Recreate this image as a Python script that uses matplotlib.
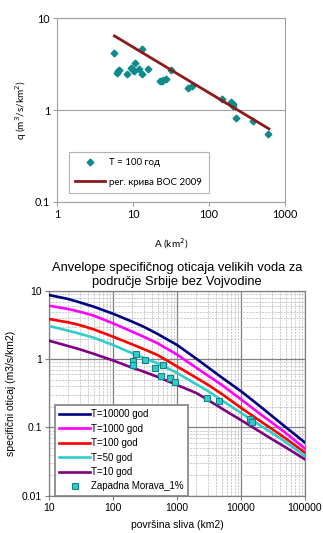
import matplotlib
matplotlib.use('Agg')
import matplotlib.pyplot as plt
from matplotlib.ticker import LogLocator, FixedLocator, NullFormatter, NullLocator

# top chart data: observed specific runoff, T = 100 god
A_obs = [5.7, 6.1, 6.3, 6.5, 8.3, 9.4, 9.9, 10.3, 10.6, 12.1, 13.0, 13.3, 15.6,
         22.7, 23.8, 24.9, 26.9, 31.6, 52.4, 59.1, 147, 195, 205, 210, 224, 376, 603]
q_obs = [4.17, 2.52, 2.68, 2.74, 2.46, 2.86, 2.74, 2.68, 3.24, 2.81, 2.46, 4.6, 2.81,
         2.08, 2.08, 2.14, 2.17, 2.72, 1.76, 1.84, 1.33, 1.22, 1.16, 1.12, 0.83, 0.77, 0.553]
A_reg = [5.7, 615]
q_reg = [6.43, 0.626]

# bottom chart data: envelopes
A_env = [10, 20, 30, 50, 100, 200, 300, 500, 1000, 2000, 3000, 5000,
         10000, 20000, 30000, 50000, 100000]
q_10000 = [8.73, 7.63, 6.83, 5.89, 4.65, 3.55, 3.0, 2.34, 1.62, 1.02, 0.77, 0.54,
           0.34, 0.203, 0.149, 0.101, 0.060]
q_1000 = [6.09, 5.44, 4.98, 4.35, 3.36, 2.53, 2.14, 1.71, 1.17, 0.75, 0.58, 0.42,
          0.258, 0.157, 0.119, 0.083, 0.049]
q_100 = [3.88, 3.47, 3.17, 2.74, 2.14, 1.65, 1.41, 1.15, 0.785, 0.535, 0.426, 0.31,
         0.194, 0.124, 0.096, 0.069, 0.0427]
q_50 = [3.07, 2.62, 2.37, 2.07, 1.62, 1.22, 1.05, 0.87, 0.63, 0.43, 0.345, 0.25,
        0.164, 0.107, 0.084, 0.061, 0.0382]
q_10 = [1.87, 1.56, 1.40, 1.20, 0.96, 0.75, 0.66, 0.55, 0.42, 0.32, 0.255, 0.19,
        0.128, 0.086, 0.068, 0.051, 0.0341]
env_labels = ['T=10000 god', 'T=1000 god', 'T=100 god', 'T=50 god', 'T=10 god']
env_colors = ['#000080', '#FF00FF', '#FF0000', '#33CCCC', '#800080']

A_zm = [206, 206, 232, 321, 455, 565, 608, 791, 925, 2965, 4510, 13800, 14650]
q_zm = [0.94, 0.82, 1.18, 0.975, 0.736, 0.574, 0.82, 0.537, 0.469, 0.267, 0.244, 0.133, 0.122]

fig = plt.figure(figsize=(3.23, 5.33), dpi=100, facecolor='white')

# ---------- top chart ----------
ax1 = fig.add_axes([57/323, 1-202/533, 228/323, 183.7/533])
top_font = 'Lato'
ax1.set_xscale('log')
ax1.set_yscale('log')
ax1.set_xlim(1, 1000)
ax1.set_ylim(0.1, 10)
ax1.plot(A_obs, q_obs, linestyle='none', marker='D', ms=3.4, color='#0E8A8A',
         label='T = 100 год', zorder=3)
ax1.plot(A_reg, q_reg, color='#8B1A1A', lw=2, label='рег. крива ВОС 2009', zorder=4)
ax1.xaxis.set_major_locator(FixedLocator([1, 10, 100, 1000]))
ax1.yaxis.set_major_locator(FixedLocator([0.1, 1, 10]))
ax1.xaxis.set_minor_locator(NullLocator())
ax1.yaxis.set_minor_locator(NullLocator())
ax1.set_xticklabels(['1', '10', '100', '1000'], fontsize=7.8, family=top_font)
ax1.set_yticklabels(['0.1', '1', '10'], fontsize=7.8, family=top_font)
ax1.tick_params(length=3, color='#a0a0a0', pad=2)
ax1.grid(axis='y', which='major', color='#a0a0a0', lw=0.8)
for s in ax1.spines.values():
    s.set_color('#a0a0a0')
    s.set_linewidth(0.8)
ax1.set_xlabel('A (km$^2$)', fontsize=7.2, family=top_font, labelpad=12)
ax1.set_ylabel('q (m$^3$/s/km$^2$)', fontsize=7.2, family=top_font, labelpad=4)
leg1 = ax1.legend(loc='lower left', bbox_to_anchor=(0.053, 0.049), borderaxespad=0,
                  prop={'family': top_font, 'size': 7}, fancybox=False,
                  edgecolor='#a0a0a0', handlelength=3.0, handletextpad=0.5,
                  borderpad=0.65, labelspacing=1.05)
leg1.get_frame().set_linewidth(0.8)

# ---------- bottom chart ----------
bot_font = 'Liberation Sans'
ax2 = fig.add_axes([49/323, 1-495.7/533, 256/323, 204.7/533])
ax2.set_xscale('log')
ax2.set_yscale('log')
ax2.set_xlim(10, 100000)
ax2.set_ylim(0.01, 10)
for q, lab, c in zip([q_10000, q_1000, q_100, q_50, q_10], env_labels, env_colors):
    ax2.plot(A_env, q, color=c, lw=1.9, label=lab, zorder=3)
ax2.plot(A_zm, q_zm, linestyle='none', marker='s', ms=4.5, mfc='#33CCCC',
         mec='#138585', mew=0.8, label='Zapadna Morava_1%', zorder=4)
ax2.xaxis.set_major_locator(FixedLocator([10, 100, 1000, 10000, 100000]))
ax2.yaxis.set_major_locator(FixedLocator([0.01, 0.1, 1, 10]))
ax2.xaxis.set_minor_locator(LogLocator(base=10, subs=range(2, 10), numticks=20))
ax2.yaxis.set_minor_locator(LogLocator(base=10, subs=range(2, 10), numticks=20))
ax2.xaxis.set_minor_formatter(NullFormatter())
ax2.yaxis.set_minor_formatter(NullFormatter())
ax2.set_xticklabels(['10', '100', '1000', '10000', '100000'], fontsize=7.5, family=bot_font)
ax2.set_yticklabels(['0.01', '0.1', '1', '10'], fontsize=7.5, family=bot_font)
ax2.tick_params(which='major', length=3, color='#808080', pad=2)
ax2.tick_params(which='minor', length=0)
ax2.grid(which='major', color='#808080', lw=0.9)
ax2.grid(which='minor', color='#b8b8b8', lw=0.5, linestyle=(0, (3, 1.5)))
for s in ax2.spines.values():
    s.set_color('#808080')
    s.set_linewidth(0.9)
ax2.set_title('Anvelope specifičnog oticaja velikih voda za\npodručje Srbije bez Vojvodine',
              fontsize=9.3, family=bot_font, pad=4, linespacing=1.3)
ax2.set_xlabel('površina sliva (km2)', fontsize=7.5, family=bot_font, labelpad=5)
ax2.set_ylabel('specifični oticaj (m3/s/km2)', fontsize=7.5, family=bot_font, labelpad=4)
leg2 = ax2.legend(loc='lower left', bbox_to_anchor=(0.023, 0.0), borderaxespad=0,
                  prop={'family': bot_font, 'size': 7}, fancybox=False,
                  edgecolor='#808080', framealpha=1, handlelength=3.2,
                  handletextpad=0.1, borderpad=0.45, labelspacing=0.45)
leg2.get_frame().set_linewidth(1.2)

fig.savefig('out.png', dpi=100, facecolor='white')
